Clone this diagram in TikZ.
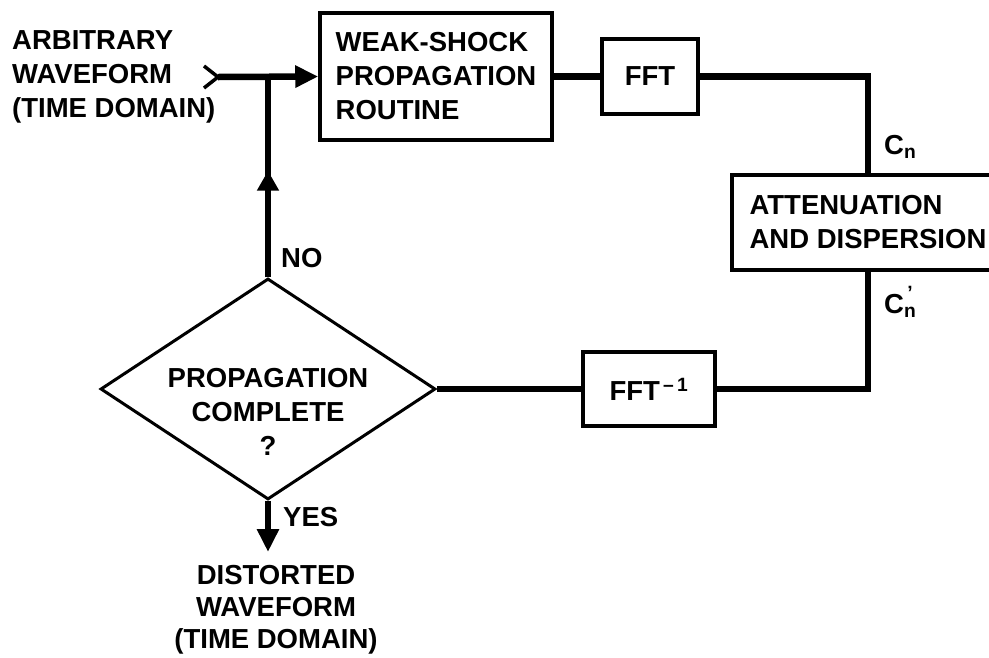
\documentclass[tikz,border=0pt]{standalone}
\usepackage{fontspec}
\setmainfont{Liberation Sans}
\usetikzlibrary{arrows.meta}
\usetikzlibrary{shapes.geometric}
\usetikzlibrary{decorations.markings}

\begin{document}
\begin{tikzpicture}[x=1pt,y=-1pt,
  font=\fontsize{27.5}{34}\selectfont\bfseries,
  box/.style={draw,line width=3.5pt,inner sep=0pt},
  flow/.style={line width=6.5pt},
  txt/.style={inner sep=0pt,align=left},
  tip/.style={-{Triangle[width=21pt,length=23pt]}},
  midtip/.style={postaction=decorate,decoration={markings,
    mark=at position #1 with {\arrow{Triangle[width=21pt,length=20pt]}}}}]
\useasboundingbox (0,0) rectangle (989,657);
% blocks
\node[box,minimum width=232pt,minimum height=127pt,align=left] (weak) at (436,76.5) {WEAK-SHOCK\\PROPAGATION\\ROUTINE};
\node[box,minimum width=96pt,minimum height=75pt] (fft) at (650,76.5) {FFT};
\node[box,minimum width=272pt,minimum height=95pt,align=left] (att) at (868,222.5) {ATTENUATION\\AND DISPERSION};
\node[box,minimum width=132pt,minimum height=74pt] (inv) at (649,389) {FFT\textsuperscript{\,--\,1}};
\node[draw,diamond,line width=3pt,minimum width=335pt,minimum height=221pt,inner sep=0pt,
  label={[txt,align=center,yshift=-23pt]center:PROPAGATION\\COMPLETE\\?}] (dec) at (268,389) {};
% texts
\node[txt,anchor=west] (src) at (12,77) {ARBITRARY\\WAVEFORM\\(TIME DOMAIN)};
\node[txt,align=center,anchor=north,inner ysep=13pt,font=\fontsize{27.5}{32}\selectfont\bfseries] (out) at (276,552) {DISTORTED\\WAVEFORM\\(TIME DOMAIN)};
\node[txt,anchor=west] (no) at (281,258) {NO};
\node[txt,anchor=west] (yes) at (283,517) {YES};
\node[txt,anchor=west] (cn) at (884,147) {C\textsubscript{n}};
\node[txt,anchor=west] (cnp) at (884,302) {C\rlap{\raisebox{5pt}{\textsuperscript{\,\char"2019}}}\textsubscript{n}};
% connectors
\coordinate (in) at (218,77);
\coordinate (jn) at (dec.north |- weak.west);
\draw[line width=3.5pt] (in) -- ++(-14,-11) (in) -- ++(-14,11);
\draw[flow,tip] (in) -- (weak.west);
\draw[flow,midtip=0.53] (dec.north) -- (jn);
\draw[flow] (weak.east) -- (fft.west);
\draw[flow] (fft.east) -| (att.north);
\draw[flow] (att.south) |- (inv.east);
\draw[flow] (inv.west) -- (dec.east);
\draw[flow,tip] (dec.south) -- (dec.south |- out.north);
\end{tikzpicture}
\end{document}
